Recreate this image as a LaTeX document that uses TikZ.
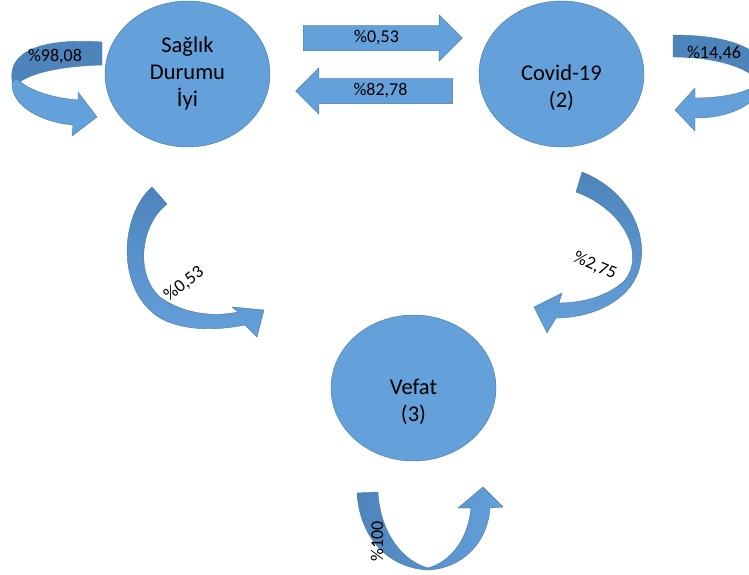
\documentclass[tikz,border=0pt]{standalone}
\usepackage{fontspec}
\setmainfont{Carlito}
\usetikzlibrary{shapes.geometric,shapes.arrows}

\definecolor{daire}{RGB}{100,160,218}
\definecolor{kenar}{RGB}{70,118,165}
\definecolor{koyu}{RGB}{78,132,188}

\tikzset{
  durum/.style={ellipse, draw=kenar, fill=daire, minimum width=165pt, minimum height=146pt, inner sep=0pt},
  durumyazi/.style={align=center, font=\fontsize{22.5}{27}\selectfont, inner sep=0pt},
  okblok/.style={single arrow, draw=kenar, fill=daire, single arrow head extend=10.5pt,
    text height=13pt, text depth=4pt, inner ysep=4pt, inner xsep=2pt, font=\fontsize{18}{21}\selectfont},
  oran/.style={font=\fontsize{18}{21}\selectfont, inner sep=0pt},
  donus/.style={draw=kenar, line width=0.4pt}
}

\begin{document}
\begin{tikzpicture}[x=1pt,y=-1pt]
\useasboundingbox (0,0) rectangle (749,575);
\clip (0,0) rectangle (749,575);

% durumlar
\node[durum] (saglik) at (187.5,74) {};
\node[durumyazi] (saglikyazi) at (saglik.center) {Sağlık\\Durumu\\İyi};
\node[durum] (covid) at (561.5,74) {};
\node[durumyazi] (covidyazi) at ([yshift=-14pt]covid.center) {Covid-19\\(2)};
\node[durum] (vefat) at (413.5,388) {};
\node[durumyazi] (vefatyazi) at ([yshift=-14pt]vefat.center) {Vefat\\(3)};

% gecisler
\node[okblok, minimum height=159pt] (ileri) at (376.5,38) {\%0,53};
\node[okblok, shape border rotate=180, minimum height=157pt] (geri) at (380.5,91) {\%82,78};

% 1 -> 1
\fill[koyu, donus] (102,42) .. controls (45,38) and (8,50) .. (12,80) -- (14,88)
  .. controls (22,74) and (60,66) .. (102,65) -- cycle;
\fill[daire, donus] (16,78) .. controls (30,92) and (55,98) .. (78,100) -- (78,92) -- (97,117)
  -- (72,136) -- (73,125) .. controls (40,122) and (10,105) .. (12,82) -- cycle;
\node[oran] (oran11) at (55,57) {\%98,08};

% 2 -> 2
\fill[koyu, donus] (673,35) .. controls (720,35) and (765,45) .. (766,75) -- (760,85)
  .. controls (755,70) and (720,57) .. (673,57) -- cycle;
\fill[daire, donus] (762,78) .. controls (755,92) and (725,98) .. (695,98) -- (695,88) -- (675,110)
  -- (695,131) -- (695,118) .. controls (730,118) and (758,105) .. (766,80) -- cycle;
\node[oran] (oran22) at (714,54) {\%14,46};

% 1 -> 3
\shade[donus, top color=koyu, middle color=koyu, bottom color=daire]
  (152,187) .. controls (120,215) and (115,290) .. (160,318) .. controls (185,332) and (220,330) .. (245,325)
  -- (257,337) -- (264,310) -- (232,307) -- (238,312)
  .. controls (210,318) and (180,312) .. (160,297) .. controls (135,275) and (140,225) .. (167,204) -- cycle;
\node[oran, rotate=38] (oran13) at (184,284) {\%0,53};

% 2 -> 3
\shade[donus, top color=koyu, middle color=koyu, bottom color=daire]
  (582,172) .. controls (640,195) and (655,255) .. (630,287) .. controls (612,310) and (580,318) .. (556,318)
  -- (547,333) -- (534,307) -- (562,293) -- (559,303)
  .. controls (585,303) and (610,295) .. (625,280) .. controls (645,255) and (625,210) .. (576,192) -- cycle;
\node[oran, rotate=-23] (oran23) at (595,266) {\%2,75};

% 3 -> 3
\shade[donus, left color=koyu, middle color=koyu, right color=daire]
  (357,493) .. controls (360,540) and (390,568) .. (428,570) .. controls (465,568) and (488,540) .. (490,508)
  -- (503,507) -- (483,487) -- (458,508) -- (471,508)
  .. controls (468,540) and (450,562) .. (428,568) .. controls (400,560) and (380,530) .. (378,492) -- cycle;
\node[oran, rotate=90] (oran33) at (377,541) {\%100};

\end{tikzpicture}
\end{document}
